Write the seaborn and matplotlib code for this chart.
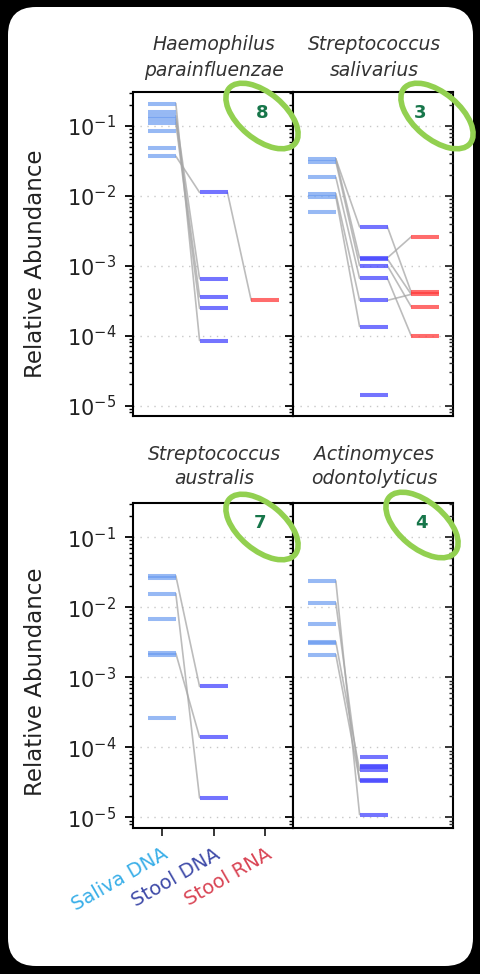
import numpy as np
import pandas as pd
import matplotlib
matplotlib.use("Agg")
import matplotlib.pyplot as plt
import seaborn as sns
from matplotlib.patches import Ellipse, FancyBboxPatch
from matplotlib.ticker import LogLocator, NullFormatter

# ---------------- data ----------------
categories = ["Saliva DNA", "Stool DNA", "Stool RNA"]
label_colors = ["#38aee8", "#3e4aa8", "#d94454"]
bar_colors = ["#6b9cf0", "#4646ff", "#ff3b3b"]
bar_alpha = [0.7, 0.75, 0.75]

species_line1 = ["Haemophilus", "Streptococcus", "Streptococcus", "Actinomyces"]
species_line2 = ["parainfluenzae", "salivarius", "australis", "odontolyticus"]
circled_numbers = ["8", "3", "7", "4"]

# Haemophilus parainfluenzae
hp_saliva_dna = [0.21, 0.16, 0.14, 0.125, 0.112, 0.085, 0.049, 0.037]
hp_stool_dna = [0.0112, 6.5e-4, 3.6e-4, 2.45e-4, 8.5e-5]
hp_stool_rna = [3.2e-4]
hp_links_saliva_dna = [(0, 4), (2, 1), (3, 2), (4, 3), (7, 0)]
hp_links_dna_rna = [(0, 0)]

# Streptococcus salivarius
ss_saliva_dna = [0.034, 0.031, 0.0185, 0.0108, 0.0098, 0.0058]
ss_stool_dna = [3.6e-3, 1.3e-3, 1.25e-3, 1.0e-3, 6.6e-4, 3.2e-4, 1.35e-4, 1.4e-5]
ss_stool_rna = [2.6e-3, 4.2e-4, 3.9e-4, 2.6e-4, 1.0e-4]
ss_links_saliva_dna = [(0, 0), (0, 1), (1, 3), (2, 4), (3, 5), (4, 6)]
ss_links_dna_rna = [(0, 1), (1, 0), (2, 2), (3, 3), (4, 4), (5, 2)]

# Streptococcus australis
sa_saliva_dna = [0.028, 0.026, 0.0156, 0.0068, 0.0022, 0.0021, 2.6e-4]
sa_stool_dna = [7.4e-4, 1.4e-4, 1.9e-5]
sa_stool_rna = []
sa_links_saliva_dna = [(0, 0), (2, 2), (4, 1)]
sa_links_dna_rna = []

# Actinomyces odontolyticus
ao_saliva_dna = [0.0237, 0.0115, 0.0057, 0.0032, 0.0031, 0.0021]
ao_stool_dna = [7.4e-5, 5.5e-5, 5.3e-5, 4.7e-5, 3.4e-5, 3.3e-5, 1.1e-5]
ao_stool_rna = []
ao_links_saliva_dna = [(0, 6), (1, 5), (3, 3), (5, 4)]
ao_links_dna_rna = []

panels = [
    (hp_saliva_dna, hp_stool_dna, hp_stool_rna, hp_links_saliva_dna, hp_links_dna_rna),
    (ss_saliva_dna, ss_stool_dna, ss_stool_rna, ss_links_saliva_dna, ss_links_dna_rna),
    (sa_saliva_dna, sa_stool_dna, sa_stool_rna, sa_links_saliva_dna, sa_links_dna_rna),
    (ao_saliva_dna, ao_stool_dna, ao_stool_rna, ao_links_saliva_dna, ao_links_dna_rna),
]

# ---------------- style ----------------
sns.set_theme(style="ticks")
plt.rcParams["font.family"] = ["DejaVu Sans"]

W, H = 481, 974
fig = plt.figure(figsize=(W / 100, H / 100), dpi=100)
fig.patch.set_facecolor("black")

# white rounded card
card = FancyBboxPatch((0.08, 0.08), 4.65, 9.59,
                      boxstyle="round,pad=0,rounding_size=0.28",
                      transform=fig.dpi_scale_trans, facecolor="white",
                      edgecolor="none", zorder=-5)
fig.add_artist(card)


def rect(x0, x1, y0, y1):
    return [x0 / W, 1 - y1 / H, (x1 - x0) / W, (y1 - y0) / H]


axes_rects = [
    rect(133, 293, 92, 416),
    rect(293, 453, 92, 416),
    rect(133, 293, 503, 828),
    rect(293, 453, 503, 828),
]
title_centers = [(214, 45, 70), (374, 45, 70), (214, 455, 479), (374, 455, 479)]
number_pos = [(262, 113), (420, 113), (260, 523), (421, 523)]
ellipse_centers = [(262, 116), (437, 116), (262, 527), (422, 525)]

half = 0.27

for p, (sal, dna, rna, l_sd, l_dr) in enumerate(panels):
    ax = fig.add_axes(axes_rects[p])
    ax.set_facecolor("white")
    ax.set_yscale("log")

    # connecting lines
    rows = []
    for k, (i, j) in enumerate(l_sd):
        rows.append({"x": 0 + half, "y": sal[i], "pair": k})
        rows.append({"x": 1 - half, "y": dna[j], "pair": k})
    for k, (j, r) in enumerate(l_dr):
        rows.append({"x": 1 + half, "y": dna[j], "pair": 100 + k})
        rows.append({"x": 2 - half, "y": rna[r], "pair": 100 + k})
    if rows:
        ldf = pd.DataFrame(rows)
        sns.lineplot(data=ldf, x="x", y="y", units="pair", estimator=None,
                     color="#a6a6a6", alpha=0.75, linewidth=1.2, ax=ax,
                     legend=False, zorder=2)

    # horizontal bars per sample
    for c, vals in enumerate([sal, dna, rna]):
        if len(vals) == 0:
            continue
        df = pd.DataFrame({"pos": [c] * len(vals), "value": vals})
        sns.scatterplot(data=df, x="pos", y="value", marker="_", s=400,
                        linewidth=2.9, color=bar_colors[c], alpha=bar_alpha[c],
                        ax=ax, legend=False, zorder=3)

    ax.set_xlim(-0.56, 2.54)
    ax.set_ylim(10 ** -5.15, 10 ** -0.513)
    ax.set_xlabel("")
    ax.set_ylabel("")
    ax.yaxis.set_major_locator(LogLocator(base=10, numticks=20))
    ax.yaxis.set_minor_locator(LogLocator(base=10, subs=np.arange(2, 10), numticks=20))
    ax.yaxis.set_minor_formatter(NullFormatter())
    ax.grid(False)
    ax.grid(axis="y", which="major", linestyle=(0, (1, 4)), color="#c8c8c8", linewidth=1.0)
    for s in ax.spines.values():
        s.set_visible(True)
        s.set_color("black")
        s.set_linewidth(1.5)
    ax.tick_params(axis="y", which="major", direction="out", length=6, width=1.3,
                   color="black", labelsize=15, pad=6, labelcolor="#222222")
    ax.tick_params(axis="y", which="minor", direction="out", length=3, width=1.0,
                   color="black")
    if p % 2 == 1:
        ax.tick_params(axis="y", labelleft=False)
        tw = ax.twinx()
        tw.set_yscale("log")
        tw.set_ylim(ax.get_ylim())
        tw.yaxis.set_major_locator(LogLocator(base=10, numticks=20))
        tw.yaxis.set_minor_locator(LogLocator(base=10, subs=np.arange(2, 10), numticks=20))
        tw.yaxis.set_minor_formatter(NullFormatter())
        tw.tick_params(axis="y", which="major", direction="in", length=6, width=1.3,
                       labelright=False)
        tw.tick_params(axis="y", which="minor", direction="in", length=3, width=1.0)
        tw.grid(False)
        for s in tw.spines.values():
            s.set_visible(False)

    if p == 2:
        ax.set_xticks([0, 1, 2])
        ax.set_xticklabels(categories, rotation=30, ha="right",
                           rotation_mode="anchor", fontsize=14)
        ax.tick_params(axis="x", direction="out", length=6, width=1.3, pad=6)
        for t, col in zip(ax.get_xticklabels(), label_colors):
            t.set_color(col)
    else:
        ax.set_xticks([0, 1, 2])
        ax.tick_params(axis="x", bottom=False, labelbottom=False)

    # species titles
    cx, y1, y2 = title_centers[p]
    fig.text(cx / W, 1 - y1 / H, species_line1[p], ha="center", va="center",
             fontsize=13.5, fontstyle="italic", color="#333333")
    fig.text(cx / W, 1 - y2 / H, species_line2[p], ha="center", va="center",
             fontsize=13.5, fontstyle="italic", color="#333333")

    # circled sample numbers
    ex, ey = ellipse_centers[p]
    ell = Ellipse((ex / 100, (H - ey) / 100), 0.86, 0.46, angle=-40,
                  transform=fig.dpi_scale_trans, facecolor="none",
                  edgecolor="#92d050", linewidth=4, zorder=10)
    fig.add_artist(ell)
    nx, ny = number_pos[p]
    fig.text(nx / W, 1 - ny / H, circled_numbers[p], ha="center", va="center",
             fontsize=13, fontweight="bold", color="#17764a", zorder=11)

# y-axis labels
fig.text(36 / W, 1 - 264 / H, "Relative Abundance", rotation=90, ha="center",
         va="center", fontsize=16.5, color="#222222")
fig.text(36 / W, 1 - 682 / H, "Relative Abundance", rotation=90, ha="center",
         va="center", fontsize=16.5, color="#222222")

fig.savefig("out.png", dpi=100, facecolor=fig.get_facecolor())
